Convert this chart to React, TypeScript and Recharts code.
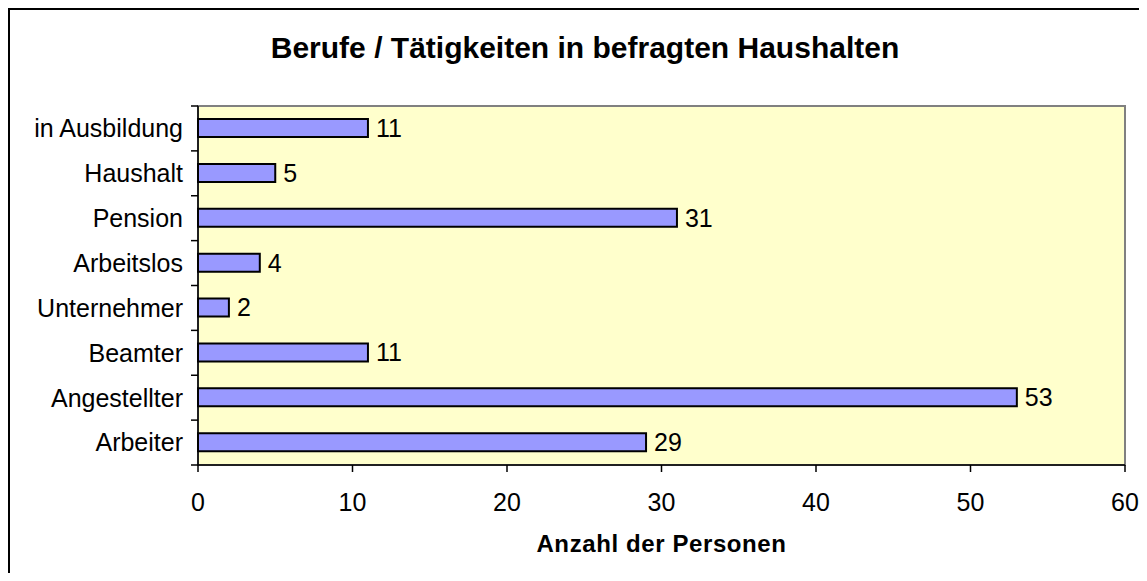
import {
  BarChart,
  Bar,
  XAxis,
  YAxis,
  ReferenceArea,
  LabelList,
} from "recharts";

const categories = [
  "in Ausbildung",
  "Haushalt",
  "Pension",
  "Arbeitslos",
  "Unternehmer",
  "Beamter",
  "Angestellter",
  "Arbeiter",
];
const persons = [11, 5, 31, 4, 2, 11, 53, 29];
const xTicks = [0, 10, 20, 30, 40, 50, 60];

const FONT = '"Liberation Sans", Arial, sans-serif';
const TICK_SIZE = 7;
const TICK_MARGIN = 8;

// category label plus Excel-style tick marks between the categories
function CategoryTick(props: any) {
  const { x, y, payload, index, visibleTicksCount, height } = props;
  const half = payload?.offset || height / visibleTicksCount / 2;
  const axisX = x + TICK_SIZE + TICK_MARGIN;
  const isLast = index === visibleTicksCount - 1;
  return (
    <g>
      <line
        x1={axisX - TICK_SIZE}
        x2={axisX}
        y1={y - half}
        y2={y - half}
        stroke="#000"
        strokeWidth={1.5}
      />
      {isLast && (
        <line
          x1={axisX - TICK_SIZE}
          x2={axisX}
          y1={y + half}
          y2={y + half}
          stroke="#000"
          strokeWidth={1.5}
        />
      )}
      <text
        x={x}
        y={y}
        dy="0.355em"
        textAnchor="end"
        fill="#000"
        fontSize={25}
        fontFamily={FONT}
      >
        {payload.value}
      </text>
    </g>
  );
}

export default function App() {
  const data = categories.map((name, i) => ({ name, value: persons[i] }));

  return (
    <div
      style={{
        position: "relative",
        width: 1139,
        height: 573,
        marginRight: -8,
        marginBottom: -8,
        boxSizing: "border-box",
        borderTop: "2px solid #000",
        borderLeft: "2px solid #000",
        background: "#fff",
        fontFamily: FONT,
      }}
    >
      <div
        style={{
          position: "absolute",
          left: 575,
          top: 23,
          transform: "translateX(-50%)",
          whiteSpace: "nowrap",
          fontSize: 30,
          lineHeight: "30px",
          fontWeight: "bold",
          color: "#000",
        }}
      >
        Berufe / Tätigkeiten in befragten Haushalten
      </div>
      <BarChart
        width={1137}
        height={571}
        data={data}
        layout="vertical"
        margin={{ top: 96, right: 22, left: 0, bottom: 0 }}
      >
        <ReferenceArea
          x1={0}
          x2={60}
          fill="#FFFFCC"
          fillOpacity={1}
          stroke="#808080"
          strokeWidth={2}
        />
        <YAxis
          type="category"
          dataKey="name"
          width={188}
          tickLine={false}
          tickSize={TICK_SIZE}
          tickMargin={TICK_MARGIN}
          axisLine={{ stroke: "#000", strokeWidth: 1.5 }}
          tick={<CategoryTick />}
        />
        <XAxis
          type="number"
          domain={[0, 60]}
          ticks={xTicks}
          height={116}
          tickSize={7}
          tickMargin={21}
          axisLine={{ stroke: "#000", strokeWidth: 1.5 }}
          tickLine={{ stroke: "#000", strokeWidth: 1.5 }}
          tick={{ fill: "#000", fontSize: 25, fontFamily: FONT }}
          label={{
            value: "Anzahl der Personen",
            position: "insideBottom",
            offset: 29,
            fill: "#000",
            fontSize: 24,
            fontWeight: "bold",
            letterSpacing: 0.6,
            fontFamily: FONT,
          }}
        />
        <Bar
          dataKey="value"
          fill="#9999FF"
          stroke="#000"
          strokeWidth={2}
          barSize={18}
          isAnimationActive={false}
        >
          <LabelList
            dataKey="value"
            position="right"
            offset={8}
            fill="#000"
            fontSize={25}
            fontFamily={FONT}
          />
        </Bar>
      </BarChart>
    </div>
  );
}
